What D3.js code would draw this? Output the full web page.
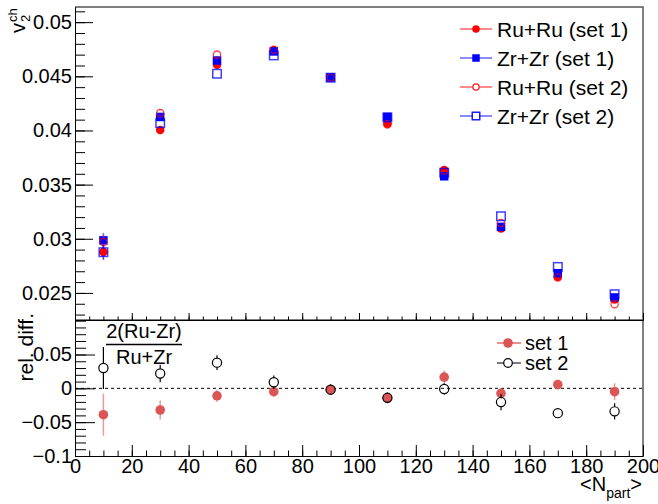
<!DOCTYPE html>
<html><head><meta charset="utf-8">
<script src="https://cdn.jsdelivr.net/npm/d3@7"></script>
<style>
html,body{margin:0;padding:0;background:#fff;}
svg text{font-family:"Liberation Sans",Arial,Helvetica,sans-serif;}
</style>
</head><body>
<svg id="c" width="658" height="504"></svg>
<script>
// ---- data ----
const npart = [10, 30, 50, 70, 90, 110, 130, 150, 170, 190];
const ruSet1 = [0.02878, 0.04005, 0.04607, 0.04740, 0.04488, 0.04062, 0.03636, 0.03094, 0.02650, 0.02440];
const zrSet1 = [0.02985, 0.04125, 0.04646, 0.04730, 0.04490, 0.04125, 0.03577, 0.03110, 0.02682, 0.02458];
const ruSet2 = [0.02970, 0.04160, 0.04700, 0.04745, 0.04490, 0.04056, 0.03630, 0.03146, 0.02642, 0.02396];
const zrSet2 = [0.02876, 0.04068, 0.04524, 0.04693, 0.04487, 0.04120, 0.03610, 0.03208, 0.02740, 0.02488];
const topErr = [0.0007, 0.0003, 0.0003, 0.0003, 0.0002, 0.0002, 0.0002, 0.0002, 0.0002, 0.0002];
const diffSet1 = [-0.039, -0.032, -0.011, -0.005, -0.002, -0.0143, 0.0165, -0.0075, 0.0055, -0.005];
const errSet1  = [0.031, 0.014, 0.009, 0.007, 0.007, 0.007, 0.010, 0.008, 0.005, 0.0125];
const diffSet2 = [0.030, 0.022, 0.038, 0.009, -0.002, -0.014, -0.001, -0.0203, -0.0367, -0.034];
const errSet2  = [0.031, 0.013, 0.011, 0.010, 0.008, 0.008, 0.008, 0.012, 0.005, 0.012];
const xTicks = [0, 20, 40, 60, 80, 100, 120, 140, 160, 180, 200];
const topYTicks = [0.025, 0.03, 0.035, 0.04, 0.045, 0.05];
const topYLabels = ["0.025", "0.03", "0.035", "0.04", "0.045", "0.05"];
const botYTicks = [-0.1, -0.05, 0, 0.05];
const botYLabels = ["\u22120.1", "\u22120.05", "0", "0.05"];
const legendTop = ["Ru+Ru (set 1)", "Zr+Zr (set 1)", "Ru+Ru (set 2)", "Zr+Zr (set 2)"];
const legendBot = ["set 1", "set 2"];

// ---- layout ----
const svg = d3.select("#c");
const L = 75, R = 643, T = 7, MID = 320, B = 456;
const x = d3.scaleLinear().domain([0, 200]).range([L, R]);
const yT = d3.scaleLinear().domain([0.0225, 0.0514]).range([MID, T]);
const yB = d3.scaleLinear().domain([-0.1, 0.101]).range([B, MID]);

const RED = "#ff0000", BLUE = "#0000ff", SET1 = "rgb(220,85,85)";
const FS = 20;

// frames
svg.append("path").attr("d", `M${L},${T}H${R}V${MID}`).attr("fill", "none").attr("stroke", "#555").attr("stroke-width", 1.5);
svg.append("path").attr("d", `M${L},${MID}H${R}V${B}`).attr("fill", "none").attr("stroke", "#555").attr("stroke-width", 1.5);

function minor(lo, hi, step) { const a = []; for (let v = lo; v <= hi + 1e-9; v += step) a.push(+v.toFixed(6)); return a; }

function styleAxis(g) { g.selectAll("path.domain").attr("stroke", "#000").attr("stroke-width", 1); g.selectAll("line").attr("stroke", "#000"); g.selectAll("text").attr("font-size", FS).attr("fill", "#000").attr("font-family", '"Liberation Sans",Arial,sans-serif'); }

// top pad y axis
svg.append("g").attr("transform", `translate(${L},0)`)
  .call(d3.axisLeft(yT).tickValues(minor(0.023, 0.051, 0.001)).tickSizeInner(-10).tickSizeOuter(0).tickFormat(""))
  .call(styleAxis);
svg.append("g").attr("transform", `translate(${L},0)`)
  .call(d3.axisLeft(yT).tickValues(topYTicks).tickSizeInner(-18).tickSizeOuter(0).tickPadding(3).tickFormat((d, i) => topYLabels[i]))
  .call(styleAxis);
// top pad x axis (no labels)
svg.append("g").attr("transform", `translate(0,${MID})`)
  .call(d3.axisBottom(x).tickValues(minor(0, 200, 5)).tickSizeInner(-3.5).tickSizeOuter(0).tickFormat(""))
  .call(styleAxis);
svg.append("g").attr("transform", `translate(0,${MID})`)
  .call(d3.axisBottom(x).tickValues(xTicks).tickSizeInner(-7).tickSizeOuter(0).tickFormat(""))
  .call(styleAxis);

// bottom pad y axis
svg.append("g").attr("transform", `translate(${L},0)`)
  .call(d3.axisLeft(yB).tickValues(minor(-0.1, 0.1, 0.01)).tickSizeInner(-11).tickSizeOuter(0).tickFormat(""))
  .call(styleAxis);
svg.append("g").attr("transform", `translate(${L},0)`)
  .call(d3.axisLeft(yB).tickValues(botYTicks).tickSizeInner(-20).tickSizeOuter(0).tickPadding(3).tickFormat((d, i) => botYLabels[i]))
  .call(styleAxis);
// bottom pad x axis
svg.append("g").attr("transform", `translate(0,${B})`)
  .call(d3.axisBottom(x).tickValues(minor(0, 200, 5)).tickSizeInner(-5.5).tickSizeOuter(0).tickFormat(""))
  .call(styleAxis);
svg.append("g").attr("transform", `translate(0,${B})`)
  .call(d3.axisBottom(x).tickValues(xTicks).tickSizeInner(-11).tickSizeOuter(0).tickPadding(3).tickFormat(d => d))
  .call(styleAxis);

// dashed zero line
svg.append("line").attr("x1", L).attr("x2", R).attr("y1", yB(0)).attr("y2", yB(0))
  .attr("stroke", "#000").attr("stroke-dasharray", "3,3").attr("stroke-width", 1);

// error bar drawn outside the marker area (ROOT style)
function errBar(g, cx, cy, yLo, yHi, gap, color, op, w) {
  if (yLo - cy > gap) g.append("line").attr("x1", cx).attr("x2", cx).attr("y1", cy + gap).attr("y2", yLo).attr("stroke", color).attr("stroke-opacity", op).attr("stroke-width", w);
  if (cy - yHi > gap) g.append("line").attr("x1", cx).attr("x2", cx).attr("y1", yHi).attr("y2", cy - gap).attr("stroke", color).attr("stroke-opacity", op).attr("stroke-width", w);
}
function drawMarker(g, shape, fill, color, cx, cy, sz, op) {
  if (shape === "circle") {
    g.append("circle").attr("cx", cx).attr("cy", cy).attr("r", fill ? sz / 2 : sz / 2 - 0.6)
      .attr("fill", fill ? color : "none").attr("stroke", color).attr("stroke-width", fill ? 0 : 1.3).attr("stroke-opacity", op);
  } else {
    g.append("rect").attr("x", cx - sz / 2).attr("y", cy - sz / 2).attr("width", sz).attr("height", sz)
      .attr("fill", fill ? color : "none").attr("stroke", color).attr("stroke-width", fill ? 0 : 1.5).attr("stroke-opacity", op);
  }
}

// ---- top pad markers ----
const topSeries = [
  { v: ruSet1, c: RED, shape: "circle", fill: true },
  { v: zrSet1, c: BLUE, shape: "square", fill: true },
  { v: ruSet2, c: RED, shape: "circle", fill: false },
  { v: zrSet2, c: BLUE, shape: "square", fill: false }
];
const gTop = svg.append("g");
topSeries.forEach(s => {
  npart.forEach((d, i) => {
    errBar(gTop, x(d), yT(s.v[i]), yT(s.v[i] - topErr[i]), yT(s.v[i] + topErr[i]), 4, s.c, 0.5, 1.5);
    drawMarker(gTop, s.shape, s.fill, s.c, x(d), yT(s.v[i]), 8.5, s.fill ? 1 : 0.75);
  });
});

// ---- top legend ----
const lg = svg.append("g");
legendTop.forEach((t, i) => {
  const s = topSeries[i];
  const yy = 29 + i * 29;
  lg.append("line").attr("x1", 460).attr("x2", 492).attr("y1", yy).attr("y2", yy).attr("stroke", s.c).attr("stroke-opacity", 0.7).attr("stroke-width", 1.3);
  if (!s.fill) drawMarker(lg, s.shape, true, "#fff", 476, yy, 7, 1);
  drawMarker(lg, s.shape, s.fill, s.c, 476, yy, 7.5, 0.9);
  lg.append("text").attr("x", 497).attr("y", yy + 7.5).attr("font-size", 21).text(t);
});

// ---- bottom pad markers ----
const gBot = svg.append("g");
npart.forEach((d, i) => {
  errBar(gBot, x(d), yB(diffSet1[i]), yB(diffSet1[i] - errSet1[i]), yB(diffSet1[i] + errSet1[i]), 0, SET1, 0.6, 1.5);
  gBot.append("circle").attr("cx", x(d)).attr("cy", yB(diffSet1[i])).attr("r", 4.8).attr("fill", SET1);
});
npart.forEach((d, i) => {
  errBar(gBot, x(d), yB(diffSet2[i]), yB(diffSet2[i] - errSet2[i]), yB(diffSet2[i] + errSet2[i]), 4.6, "#000", 1, 1.2);
  gBot.append("circle").attr("cx", x(d)).attr("cy", yB(diffSet2[i])).attr("r", 4.6)
    .attr("fill", "none").attr("stroke", "#000").attr("stroke-width", 1.2);
});

// bottom legend
legendBot.forEach((t, i) => {
  const yy = 343 + i * 20;
  svg.append("line").attr("x1", 497).attr("x2", 521).attr("y1", yy).attr("y2", yy)
    .attr("stroke", i === 0 ? SET1 : "#333").attr("stroke-width", 1.3);
  if (i === 0) svg.append("circle").attr("cx", 508).attr("cy", yy).attr("r", 4.8).attr("fill", SET1);
  else svg.append("circle").attr("cx", 508).attr("cy", yy).attr("r", 4.3).attr("fill", "#fff").attr("stroke", "#000").attr("stroke-width", 1.2);
  svg.append("text").attr("x", 525).attr("y", yy + 7).attr("font-size", FS).text(t);
});

// fraction label
svg.append("text").attr("x", 144).attr("y", 338).attr("text-anchor", "middle").attr("font-size", FS).text("2(Ru-Zr)");
svg.append("line").attr("x1", 106).attr("x2", 182).attr("y1", 344.5).attr("y2", 344.5).attr("stroke", "#000").attr("stroke-width", 1.3);
svg.append("text").attr("x", 144).attr("y", 364).attr("text-anchor", "middle").attr("font-size", FS).text("Ru+Zr");

// y title top: v_2^ch
const vt = svg.append("g").attr("transform", "translate(25,33) rotate(-90)");
vt.append("text").attr("x", 0).attr("y", 0).attr("font-size", 20).text("v");
vt.append("text").attr("x", 11).attr("y", -8).attr("font-size", 13).text("ch");
vt.append("text").attr("x", 11).attr("y", 5).attr("font-size", 13).text("2");

// y title bottom
svg.append("text").attr("transform", "translate(33,313) rotate(-90)").attr("text-anchor", "end").attr("font-size", 21).text("rel. diff.");

// x title <N_part>
const xt = svg.append("text").attr("x", 642).attr("y", 491).attr("text-anchor", "end").attr("font-size", 20);
xt.append("tspan").text("<N");
xt.append("tspan").attr("font-size", 14).attr("dy", 7).text("part");
xt.append("tspan").attr("dy", -7).text(">");
</script>
</body></html>
